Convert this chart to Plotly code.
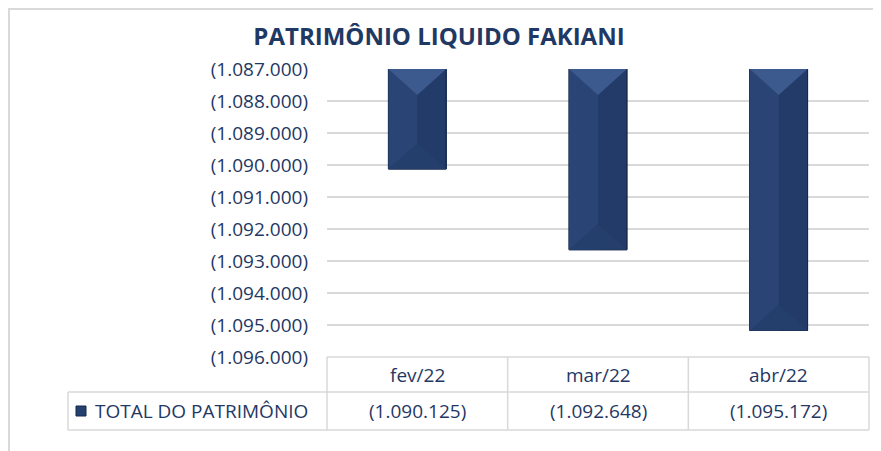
import plotly.graph_objects as go

# ---------------- data ----------------
categories = ["fev/22", "mar/22", "abr/22"]
series_name = "TOTAL DO PATRIMÔNIO"
values = [-1090125, -1092648, -1095172]
tick_values = [-1087000, -1088000, -1089000, -1090000, -1091000,
               -1092000, -1093000, -1094000, -1095000, -1096000]
tick_labels = ["(1.087.000)", "(1.088.000)", "(1.089.000)", "(1.090.000)",
               "(1.091.000)", "(1.092.000)", "(1.093.000)", "(1.094.000)",
               "(1.095.000)", "(1.096.000)"]
title_text = "PATRIMÔNIO LIQUIDO FAKIANI"


def fmt(v):
    s = f"{abs(v):,}".replace(",", ".")
    return f"({s})" if v < 0 else s


value_labels = [fmt(v) for v in values]

# ---------------- layout constants (screen px, page body has 8px margin) ----------------
OFF = 8
SW, SH = 881, 451
W, H = SW - OFF, SH - OFF
PL, PR, PT, PB = 327, 869, 69, 357      # plot area in screen px
ML, MR, MT, MB = PL - OFF, W - (PR - OFF), PT - OFF, H - (PB - OFF)
PW, PH = W - ML - MR, H - MT - MB
Y_MIN, Y_MAX = -1096000, -1087000
BAR_W = 0.32
NAVY = "#1F3864"
GRID = "#D9D9D9"
FONT = "Open Sans"


def px2x(sx):
    return (sx - OFF - ML) / PW


def px2y(sy):
    return (H - MB - (sy - OFF)) / PH


xs = list(range(len(categories)))

fig = go.Figure()

# base bars (right/darker face)
fig.add_trace(go.Bar(
    x=xs, y=values, width=BAR_W, name=series_name,
    marker=dict(color="#223B68", line=dict(color="#16294C", width=1)),
    showlegend=False, hoverinfo="skip",
))

# bevel overlays computed from the bar values
px_per_x = PW / 3.0
px_per_y = PH / (Y_MAX - Y_MIN)
hw = BAR_W / 2
depth = hw * px_per_x / px_per_y * 0.9
top = Y_MAX


def polys(builder):
    xx, yy = [], []
    for x, v in zip(xs, values):
        px_, py_ = builder(x, v)
        xx += px_ + [None]
        yy += py_ + [None]
    return xx, yy


left_face = polys(lambda x, v: ([x - hw, x, x, x - hw, x - hw],
                                [top, top, v, v, top]))
top_tri = polys(lambda x, v: ([x - hw, x + hw, x, x - hw],
                              [top, top, top - min(depth, (top - v) / 2), top]))
bot_tri = polys(lambda x, v: ([x - hw, x + hw, x, x - hw],
                              [v, v, v + min(depth, (top - v) / 2), v]))

for (xx, yy), col in [(left_face, "#2A4575"), (top_tri, "#3D5A8E"), (bot_tri, "#243F6C")]:
    fig.add_trace(go.Scatter(
        x=xx, y=yy, fill="toself", fillcolor=col, mode="lines",
        line=dict(width=0), hoverinfo="skip", showlegend=False,
    ))

# bar outline on top
fig.add_trace(go.Bar(
    x=xs, y=values, width=BAR_W,
    marker=dict(color="rgba(0,0,0,0)", line=dict(color="#17294B", width=1)),
    showlegend=False, hoverinfo="skip",
))

shapes = []
# chart outer border (top and left)
shapes.append(dict(type="line", xref="paper", yref="paper",
                   x0=px2x(OFF), x1=px2x(SW), y0=px2y(OFF + 1), y1=px2y(OFF + 1),
                   line=dict(color=GRID, width=2)))
shapes.append(dict(type="line", xref="paper", yref="paper",
                   x0=px2x(OFF + 1), x1=px2x(OFF + 1), y0=px2y(OFF), y1=px2y(SH),
                   line=dict(color=GRID, width=2)))

# data table
row_top, row_mid, row_bot = 357, 392, 430
label_left = 68
n = len(categories)
line_t = dict(color=GRID, width=1.5)
shapes.append(dict(type="line", xref="paper", yref="paper", x0=0, x1=1,
                   y0=px2y(row_top), y1=px2y(row_top), line=line_t))
shapes.append(dict(type="line", xref="paper", yref="paper", x0=px2x(label_left), x1=1,
                   y0=px2y(row_mid), y1=px2y(row_mid), line=line_t))
shapes.append(dict(type="line", xref="paper", yref="paper", x0=px2x(label_left), x1=1,
                   y0=px2y(row_bot), y1=px2y(row_bot), line=line_t))
for i in range(n + 1):
    shapes.append(dict(type="line", xref="paper", yref="paper", x0=i / n, x1=i / n,
                       y0=px2y(row_top), y1=px2y(row_bot), line=line_t))
shapes.append(dict(type="line", xref="paper", yref="paper",
                   x0=px2x(label_left), x1=px2x(label_left),
                   y0=px2y(row_mid), y1=px2y(row_bot), line=line_t))
# legend key
kc = (row_mid + row_bot) / 2
shapes.append(dict(type="rect", xref="paper", yref="paper",
                   x0=px2x(76), x1=px2x(86), y0=px2y(kc - 5), y1=px2y(kc + 5),
                   fillcolor="#24406F", line=dict(color="#16294C", width=1)))

annotations = []
tfont = dict(family=FONT, size=19, color=NAVY)
for i, (c, lab) in enumerate(zip(categories, value_labels)):
    xc = (i + 0.5) / n
    annotations.append(dict(x=xc, y=px2y((row_top + row_mid) / 2), xref="paper", yref="paper",
                            text=c, showarrow=False, font=tfont,
                            xanchor="center", yanchor="middle"))
    annotations.append(dict(x=xc, y=px2y(kc), xref="paper", yref="paper",
                            text=lab, showarrow=False, font=tfont,
                            xanchor="center", yanchor="middle"))
annotations.append(dict(x=px2x(93), y=px2y(kc), xref="paper", yref="paper",
                        text=series_name, showarrow=False, font=tfont,
                        xanchor="left", yanchor="middle"))

fig.update_layout(
    width=W, height=H,
    margin=dict(l=ML, r=MR, t=MT, b=MB),
    paper_bgcolor="white", plot_bgcolor="white",
    title=dict(text=f"<b>{title_text}</b>", x=(439 - OFF) / W, xanchor="center",
               y=1 - (37 - OFF) / H, yanchor="middle",
               font=dict(family=FONT, size=24, color=NAVY)),
    xaxis=dict(range=[-0.5, n - 0.5], showticklabels=False, showgrid=False,
               zeroline=False, showline=False, fixedrange=True),
    yaxis=dict(range=[Y_MIN, Y_MAX], tickvals=tick_values, ticktext=tick_labels,
               tickfont=dict(family=FONT, size=19, color=NAVY),
               showgrid=True, gridcolor=GRID, gridwidth=2, zeroline=False,
               showline=False, ticks="", ticklabelstandoff=18),
    shapes=shapes, annotations=annotations,
    barmode="overlay", showlegend=False,
)

fig.write_html("out.html")
